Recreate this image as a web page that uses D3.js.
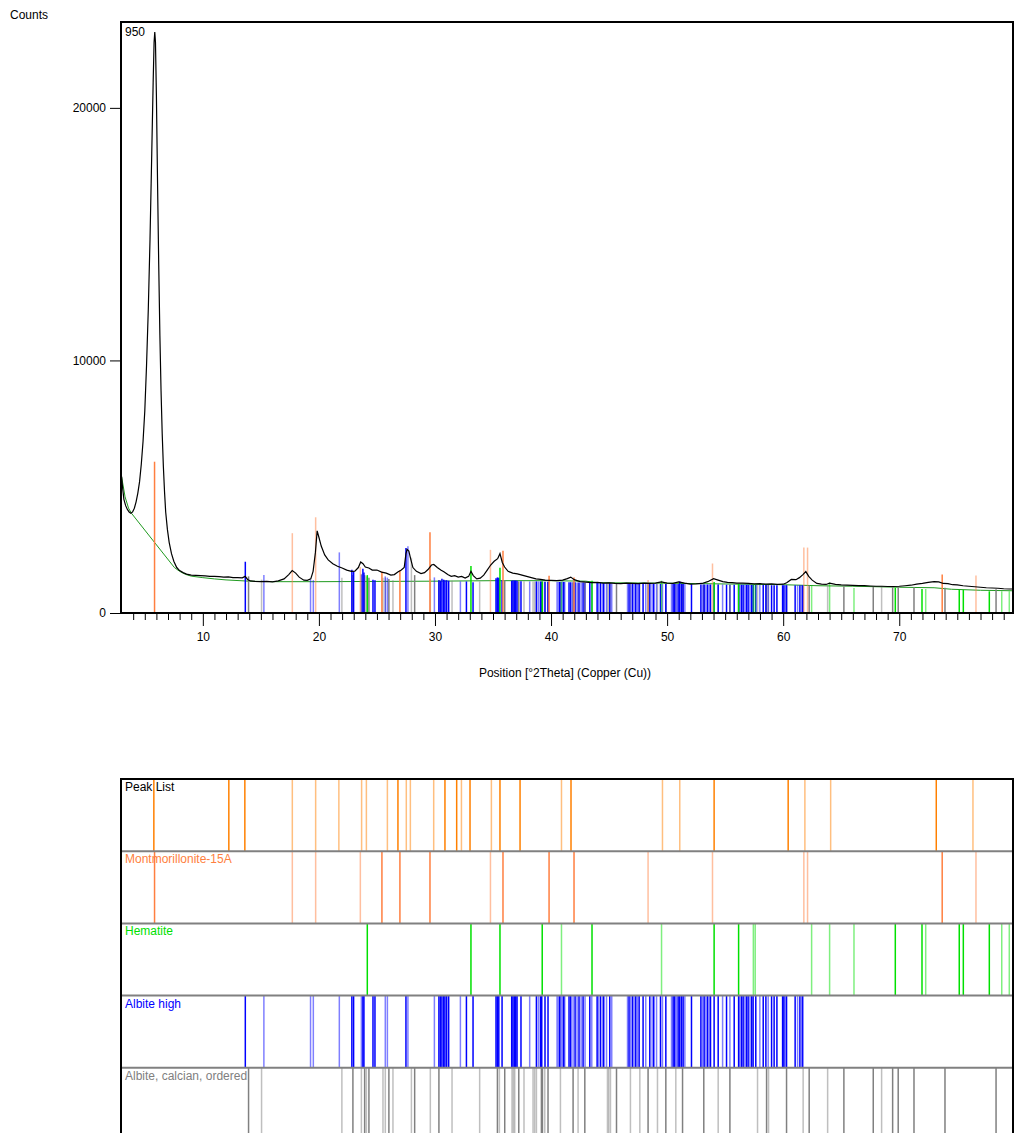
<!DOCTYPE html>
<html lang="en">
<head>
    <meta charset="UTF-8">
    <title>XRD Pattern</title>
    <script src="https://cdn.jsdelivr.net/npm/d3@7"></script>
    <style>
        body { margin: 0; background: #ffffff; }
        svg text { font-family: "Liberation Sans", Arial, sans-serif; font-size: 12px; }
    </style>
</head>
<body>
<div id="container"></div>
<script>

    // observed scan: [2theta, counts]
    const observed = [
        [3.00,5400],[3.10,4900],[3.20,4500],[3.35,4250],[3.50,4100],[3.65,4000],[3.80,3950],[3.95,4000],
        [4.10,4150],[4.25,4400],[4.40,4750],[4.55,5200],[4.70,5900],[4.85,6800],[5.00,8000],[5.15,9800],
        [5.30,12000],[5.45,14800],[5.60,18200],[5.72,21000],[5.80,22600],[5.86,23000],[5.92,22600],[6.00,20500],
        [6.10,17000],[6.20,13800],[6.30,11000],[6.40,8800],[6.50,7100],[6.60,5800],[6.70,4800],[6.80,4000],
        [6.95,3300],[7.10,2800],[7.30,2350],[7.50,2050],[7.75,1800],[8.00,1680],[8.30,1600],[8.60,1540],
        [9.00,1500],[9.40,1490],[9.80,1480],[10.20,1470],[10.60,1450],[11.00,1450],[11.40,1440],[11.80,1420],
        [12.20,1430],[12.60,1400],[13.00,1400],[13.40,1390],[13.65,1450],[13.85,1330],[14.10,1270],[14.50,1250],
        [15.00,1240],[15.50,1250],[16.00,1230],[16.50,1270],[17.00,1350],[17.40,1520],[17.70,1680],[18.00,1580],
        [18.30,1420],[18.70,1300],[19.00,1290],[19.30,1350],[19.50,1650],[19.70,2400],[19.85,3250],[20.00,3000],
        [20.20,2650],[20.50,2300],[20.80,2100],[21.20,1950],[21.60,1850],[22.00,1780],[22.40,1700],[22.80,1650],
        [23.10,1660],[23.40,1800],[23.60,2020],[23.80,1950],[24.00,1820],[24.30,1780],[24.60,1700],[25.00,1700],
        [25.40,1620],[25.80,1580],[26.20,1500],[26.50,1520],[26.80,1620],[27.10,1700],[27.35,1800],[27.50,2350],
        [27.60,2520],[27.75,2450],[27.90,2150],[28.10,1800],[28.40,1650],[28.80,1560],[29.10,1600],[29.40,1720],
        [29.70,1900],[29.90,1920],[30.20,1800],[30.50,1700],[30.80,1620],[31.10,1520],[31.40,1450],[31.70,1480],
        [32.00,1420],[32.30,1450],[32.60,1380],[32.90,1450],[33.10,1650],[33.30,1480],[33.60,1350],[33.90,1380],
        [34.20,1500],[34.50,1700],[34.80,1900],[35.10,2050],[35.40,2150],[35.60,2350],[35.80,2000],[36.00,1820],
        [36.30,1650],[36.70,1580],[37.10,1550],[37.50,1500],[37.90,1450],[38.30,1400],[38.70,1350],[39.10,1330],
        [39.50,1300],[40.00,1290],[40.50,1280],[41.00,1300],[41.40,1360],[41.70,1420],[42.00,1320],[42.50,1240],
        [43.00,1220],[43.50,1200],[44.00,1210],[44.50,1180],[45.00,1190],[45.50,1170],[46.00,1160],[46.50,1180],
        [47.00,1170],[47.50,1160],[48.00,1180],[48.50,1170],[49.00,1180],[49.50,1230],[50.00,1180],[50.50,1170],
        [51.00,1230],[51.50,1180],[52.00,1140],[52.50,1150],[53.00,1170],[53.50,1240],[54.00,1360],[54.40,1300],
        [54.80,1240],[55.20,1210],[55.60,1200],[56.00,1180],[56.50,1180],[57.00,1170],[57.50,1150],[58.00,1160],
        [58.50,1140],[59.00,1150],[59.50,1130],[60.00,1140],[60.30,1200],[60.70,1330],[61.10,1320],[61.40,1400],
        [61.70,1520],[61.95,1640],[62.20,1450],[62.50,1300],[62.90,1170],[63.30,1140],[63.70,1130],[64.00,1180],
        [64.50,1130],[65.00,1110],[65.50,1100],[66.00,1090],[66.50,1080],[67.00,1080],[67.50,1070],[68.00,1060],
        [68.50,1060],[69.00,1050],[69.50,1050],[70.00,1060],[70.50,1080],[71.00,1100],[71.50,1140],[72.00,1170],
        [72.50,1210],[73.00,1240],[73.40,1230],[73.80,1170],[74.20,1160],[74.60,1120],[75.00,1110],[75.50,1080],
        [76.00,1060],[76.50,1040],[77.00,1020],[77.50,1000],[78.00,990],[78.50,980],[79.00,960],[79.50,950],[79.80,950]
    ];

    // fitted background: [2theta, counts]
    const background = [
        [3.00,5400],[3.30,4600],[3.60,4150],[3.85,3950],[7.55,1800],[8.00,1650],[8.50,1530],[9.00,1460],
        [10.00,1400],[11.00,1350],[12.00,1310],[14.00,1260],[16.00,1240],[20.00,1240],[25.00,1250],[30.00,1260],
        [35.00,1280],[40.00,1280],[43.00,1260],[44.00,1200],[50.00,1180],[55.00,1150],[60.00,1120],[63.00,1080],
        [66.00,1060],[70.00,1020],[73.00,1000],[74.50,940],[77.00,900],[79.80,880]
    ];

    // peak list positions: [2theta, strong]
    const peakList = [
        [5.78,1],[12.24,1],[13.62,1],[17.71,0],[19.72,0],[21.72,0],[23.68,0],[24.09,0],[25.90,0],[26.81,1],
        [27.53,0],[27.88,0],[29.89,0],[30.86,1],[31.87,1],[32.28,0],[33.02,1],[34.86,0],[35.60,1],[37.33,1],
        [40.90,0],[41.72,1],[49.60,0],[51.09,0],[54.05,1],[60.43,1],[61.87,0],[64.09,0],[73.19,1],[76.35,0]
    ];

    // reference sticks: [2theta, counts of stick top, strong]
    const montmorillonite = [
        [5.84,5990,1],[17.71,3160,0],[19.72,3790,0],[23.57,1820,0],[25.43,1640,1],[26.98,1680,1],[29.57,3200,1],
        [34.78,2500,0],[35.86,2460,1],[39.83,1470,1],[41.98,1410,1],[48.36,1310,0],[53.91,1960,0],[61.78,2590,0],
        [62.10,2590,0],[73.70,1520,1],[76.61,1480,0]
    ];

    const hematite = [
        [24.17,1500,1],[33.10,1860,1],[35.60,1790,1],[39.24,1250,1],[40.90,1240,0],[43.53,1280,1],[49.52,1280,0],
        [54.05,1230,1],[56.16,1150,1],[57.43,1120,0],[57.59,1120,0],[62.45,1080,0],[64.00,1210,0],[66.10,990,0],
        [69.66,1000,1],[71.96,950,1],[72.28,950,0],[75.17,920,1],[75.52,920,1],[77.76,860,1],[78.83,860,0],[79.48,860,0]
    ];

    const albiteHigh = [
        [13.66,2030,1],[15.26,1500,0],[19.28,1320,0],[19.52,1300,0],[21.76,2400,0],[22.84,1710,1],[22.99,1650,1],
        [23.66,1520,0],[23.79,1750,1],[23.88,1600,1],[24.66,1320,1],[24.83,1300,1],[25.72,1450,0],[25.90,1400,0],
        [27.50,2570,1],[27.67,2640,0],[29.95,1410,0],[30.34,1300,1],[30.47,1280,1],[30.60,1360,1],[30.75,1320,1],
        [30.86,1300,1],[31.01,1300,1],[31.18,1280,1],[32.19,1250,0],[32.71,1250,1],[33.28,1220,1],[35.26,1380,1],
        [35.38,1410,1],[35.50,1400,1],[35.78,1300,1],[36.61,1280,1],[36.72,1290,1],[36.84,1290,1],[36.96,1290,1],
        [37.07,1280,1],[37.41,1260,1],[38.16,1250,0],[38.74,1250,1],[38.91,1250,0],[39.09,1250,1],[39.20,1240,1],
        [39.48,1240,1],[39.74,1240,1],[40.52,1230,0],[40.64,1230,0],[40.75,1230,1],[40.86,1230,0],[40.98,1240,0],
        [41.09,1230,1],[41.18,1230,0],[41.55,1220,1],[41.70,1220,1],[41.90,1220,0],[42.07,1220,1],[42.24,1210,0],
        [42.41,1210,1],[42.59,1210,0],[42.76,1210,1],[42.93,1200,0],[43.34,1200,1],[43.51,1200,0],[43.97,1190,1],
        [44.09,1190,0],[44.26,1190,1],[44.43,1190,0],[44.54,1180,1],[44.78,1180,0],[45.06,1180,1],[45.23,1170,0],
        [46.59,1160,0],[46.72,1160,1],[46.87,1160,0],[47.02,1160,1],[47.16,1160,0],[47.30,1150,1],[47.45,1150,0],
        [47.59,1150,1],[47.93,1150,1],[48.16,1150,0],[48.51,1150,1],[48.71,1150,0],[48.85,1150,1],[49.09,1150,0],
        [49.43,1150,1],[49.60,1150,0],[49.89,1150,1],[50.38,1150,0],[50.52,1150,1],[50.66,1150,1],[50.81,1150,0],
        [50.95,1150,1],[51.09,1250,1],[51.24,1150,1],[51.38,1150,1],[51.53,1150,0],[52.10,1140,1],[52.91,1130,1],
        [53.05,1130,0],[53.19,1130,1],[53.34,1130,0],[53.48,1130,1],[53.62,1130,0],[53.74,1130,1],[54.05,1130,1],
        [54.40,1130,1],[54.78,1130,0],[55.12,1120,1],[55.41,1120,0],[55.78,1120,1],[56.16,1120,1],[56.27,1120,0],
        [56.41,1120,1],[56.55,1120,1],[56.70,1120,0],[56.84,1120,1],[56.98,1120,1],[57.13,1120,0],[57.28,1110,1],
        [57.41,1110,1],[57.64,1110,1],[57.99,1110,0],[58.28,1110,1],[58.51,1110,1],[58.71,1110,0],[59.00,1100,1],
        [59.22,1100,1],[59.46,1100,1],[59.95,1100,1],[60.06,1100,1],[60.17,1100,0],[60.29,1100,1],[61.03,1100,1],
        [61.24,1100,0],[61.44,1100,1],[61.64,1100,1],[61.72,1100,0]
    ];

    const albiteCalcian = [
        [13.94,1450,1],[15.06,1320,0],[21.98,1400,0],[22.93,1500,1],[23.66,1550,0],[23.94,1500,1],[24.09,1450,0],
        [24.31,1400,1],[25.52,1400,0],[25.72,1400,0],[26.03,1350,1],[26.38,1300,0],[27.97,2190,0],[28.25,1500,1],
        [29.60,1350,0],[30.34,1300,1],[31.47,1280,0],[33.85,1250,0],[35.38,1350,1],[35.55,1350,0],[36.01,1300,1],
        [36.64,1280,0],[36.76,1280,0],[36.87,1280,0],[37.22,1260,1],[37.67,1260,0],[38.45,1250,0],[38.59,1250,0],
        [38.74,1250,0],[39.17,1240,1],[39.26,1240,1],[39.46,1240,0],[39.74,1240,1],[40.81,1230,0],[41.90,1220,1],
        [42.33,1210,0],[42.91,1200,1],[44.86,1180,0],[44.97,1180,0],[45.12,1180,0],[45.64,1170,1],[46.84,1160,0],
        [47.65,1150,0],[48.36,1150,1],[49.17,1150,0],[49.89,1150,1],[50.75,1150,0],[51.33,1150,1],[53.16,1130,1],
        [54.40,1130,0],[55.41,1120,1],[57.79,1110,0],[58.57,1110,1],[58.74,1110,0],[60.29,1100,1],[61.72,1100,0],
        [62.24,1090,1],[63.83,1070,0],[65.23,1060,1],[67.76,1050,1],[68.48,1050,0],[69.43,1040,1],[69.91,1040,1],
        [71.27,1020,1],[73.94,1000,1],[78.34,940,1]
    ];

    const xMajorTicks = [10, 20, 30, 40, 50, 60, 70];
    const yTicks = [0, 10000, 20000];

    const rows = [
        {name: "Peak List", color: "#ff8000", data: peakList},
        {name: "Montmorillonite-15A", color: "#ff7f40", data: montmorillonite},
        {name: "Hematite", color: "#00e000", data: hematite},
        {name: "Albite high", color: "#0000ff", data: albiteHigh},
        {name: "Albite, calcian, ordered", color: "#808080", data: albiteCalcian}
    ];

    let svg = d3.select("#container")
        .append("svg")
        .attr("width", 1015)
        .attr("height", 1133)
        .style("background-color", "#ffffff");

    let plotLeft = 121, plotRight = 1013, plotTop = 22, plotBottom = 613;

    let x = d3.scaleLinear().domain([2.95, 79.8]).range([plotLeft, plotRight]);
    let y = d3.scaleLinear().domain([0, 23400]).range([plotBottom, plotTop]);

    // ---------- top plot ----------
    let plot = svg.append("g");

    plot.append("path")
        .datum(background)
        .attr("d", d3.line().x(d => x(d[0])).y(d => y(d[1])))
        .attr("fill", "none")
        .style("stroke", "#1f9a1f")
        .style("stroke-width", "1px");

    // stick patterns, grey first so coloured ones sit on top
    [rows[4], rows[3], rows[2], rows[1]].forEach(r => {
        plot.append("g").selectAll("line")
            .data(r.data)
            .join("line")
            .attr("x1", d => x(d[0]))
            .attr("x2", d => x(d[0]))
            .attr("y1", y(0))
            .attr("y2", d => y(d[1]))
            .style("stroke", r.color)
            .style("stroke-opacity", d => d[2] ? 1 : 0.5)
            .style("stroke-width", "1.5px");
    });

    plot.append("path")
        .datum(observed)
        .attr("d", d3.line().x(d => x(d[0])).y(d => y(d[1])))
        .attr("fill", "none")
        .style("stroke", "#000000")
        .style("stroke-width", "1.2px");

    // minor x ticks
    svg.append("g")
        .attr("transform", "translate(0," + plotBottom + ")")
        .call(d3.axisBottom(x).tickValues(d3.range(4, 80).filter(v => v % 10 !== 0)).tickSize(7).tickFormat(""))
        .call(g => g.select(".domain").remove());

    // major x ticks
    svg.append("g")
        .attr("transform", "translate(0," + plotBottom + ")")
        .call(d3.axisBottom(x).tickValues(xMajorTicks).tickSize(13).tickPadding(6))
        .call(g => g.select(".domain").remove())
        .call(g => g.selectAll("text").style("font-size", "12px").attr("fill", "#000"));

    svg.append("g")
        .attr("transform", "translate(" + plotLeft + ",0)")
        .call(d3.axisLeft(y).tickValues(yTicks).tickSize(11).tickPadding(4).tickFormat(d3.format("d")))
        .call(g => g.select(".domain").remove())
        .call(g => g.selectAll("text").style("font-size", "12px").attr("fill", "#000"));

    // frame
    svg.append("rect")
        .attr("x", plotLeft).attr("y", plotTop)
        .attr("width", plotRight - plotLeft).attr("height", plotBottom - plotTop)
        .attr("fill", "none")
        .style("stroke", "#000")
        .style("stroke-width", "2px");

    svg.append("text").attr("x", 10).attr("y", 19).text("Counts");
    svg.append("text").attr("x", 125).attr("y", 36).text("950");
    svg.append("text")
        .attr("x", (plotLeft + plotRight) / 2 - 2).attr("y", 677)
        .attr("text-anchor", "middle")
        .text("Position [°2Theta] (Copper (Cu))");

    // ---------- bottom panel ----------
    let band = d3.scaleBand()
        .domain(rows.map(r => r.name))
        .range([779, 779 + 5 * 72.2]);

    rows.forEach(r => {
        let g = svg.append("g");
        g.selectAll("line")
            .data(r.data)
            .join("line")
            .attr("x1", d => x(d[0]))
            .attr("x2", d => x(d[0]))
            .attr("y1", band(r.name))
            .attr("y2", band(r.name) + band.bandwidth())
            .style("stroke", r.color)
            .style("stroke-opacity", d => d[d.length - 1] ? 1 : 0.5)
            .style("stroke-width", "1.5px");
        g.append("text")
            .attr("x", 125)
            .attr("y", band(r.name) + 12)
            .attr("fill", r.name === "Peak List" ? "#000" : r.color)
            .text(r.name);
    });

    // row separators
    svg.append("g").selectAll("line")
        .data(rows.slice(1))
        .join("line")
        .attr("x1", plotLeft).attr("x2", plotRight)
        .attr("y1", d => band(d.name)).attr("y2", d => band(d.name))
        .style("stroke", "#808080")
        .style("stroke-width", "2px");

    svg.append("path")
        .attr("d", "M" + plotLeft + ",1140V779H" + plotRight + "V1140")
        .attr("fill", "none")
        .style("stroke", "#000")
        .style("stroke-width", "2px");

</script>
</body>
</html>
